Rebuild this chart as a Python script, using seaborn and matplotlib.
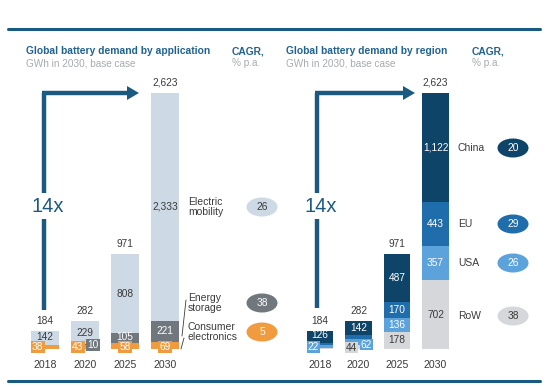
import matplotlib
matplotlib.use("Agg")
import matplotlib.pyplot as plt
import seaborn as sns
import numpy as np
import pandas as pd
from matplotlib.patches import Ellipse
from matplotlib.lines import Line2D

# ---------------- data ----------------
years = ["2018", "2020", "2025", "2030"]
consumer = [38, 43, 58, 69]
storage = [4, 10, 105, 221]
mobility = [142, 229, 808, 2333]
app_totals = [184, 282, 971, 2623]

row = [14, 44, 178, 702]
usa = [22, 62, 136, 357]
eu = [22, 34, 170, 443]
china = [126, 142, 487, 1122]
reg_totals = [184, 282, 971, 2623]

app_names = ["Electric\nmobility", "Energy\nstorage", "Consumer\nelectronics"]
app_cagr = ["26", "38", "5"]
reg_names = ["China", "EU", "USA", "RoW"]
reg_cagr = ["20", "29", "26", "38"]

# ---------------- style ----------------
sns.set_theme(style="white")
plt.rcParams["font.family"] = ["Liberation Sans", "DejaVu Sans"]

C_NAVY = "#1b5a80"
C_TITLE = "#22628f"
C_SUB = "#a6abb0"
C_TXT = "#3a3a3a"
C_EV = "#cdd9e5"
C_ST = "#70777d"
C_CE = "#f09b40"
C_CN = "#0e4467"
C_EU = "#1f6dab"
C_US = "#5ba3da"
C_RW = "#d5d7da"

W, H = 547, 387
fig = plt.figure(figsize=(W / 100, H / 100), dpi=100)
fig.patch.set_facecolor("white")

BASE = 349.0      # baseline pixel (from top)
TOPPX = 30.0
SCALE = 256.0 / 2623.0  # px per GWh
YMAX = (BASE - TOPPX) / SCALE


def px(x, y):
    return x / W, 1 - y / H


def make_ax(x0, x1, pos0, unit):
    ax = fig.add_axes([x0 / W, 1 - BASE / H, (x1 - x0) / W, (BASE - TOPPX) / H])
    ax._lims = ((x0 - pos0) / unit, (x1 - pos0) / unit)
    return ax


def finish(ax):
    ax.set_xlim(*ax._lims)
    ax.set_ylim(0, YMAX)
    ax.axis("off")


def stacked(ax, layers, colors):
    # layers bottom->top; draw cumulative sums from the top down
    cum = np.cumsum(np.array(layers), axis=0)
    for i in range(len(layers) - 1, -1, -1):
        df = pd.DataFrame({"year": years, "v": cum[i]})
        sns.barplot(data=df, x="year", y="v", color=colors[i], saturation=1,
                    width=0.7, errorbar=None, ax=ax, linewidth=0)
    return cum


fs = 7.3
fy = 7.6

# ---------------- left panel ----------------
axL = make_ax(0, 280, 45, 40)
cumL = stacked(axL, [consumer, storage, mobility], [C_CE, C_ST, C_EV])
finish(axL)

for i, y in enumerate(years):
    axL.text(i, app_totals[i] + 55, f"{app_totals[i]:,}", ha="center", va="bottom",
             fontsize=fs, color=C_TXT)
    axL.text(i, -160, y, ha="center", va="center", fontsize=fy, color=C_TXT)
    mid = cumL[1][i] + mobility[i] / 2
    axL.text(i, max(mid, 120), f"{mobility[i]:,}", ha="center", va="center",
             fontsize=fs, color=C_TXT)
    if i >= 1:
        if i == 1:
            axL.text(i + 0.2, 40, f"{storage[i]}", ha="center", va="center", fontsize=fs,
                     color="white", bbox=dict(boxstyle="square,pad=0.12", fc=C_ST, ec="none"))
        else:
            axL.text(i, cumL[0][i] + storage[i] / 2 + 10, f"{storage[i]}", ha="center",
                     va="center", fontsize=fs, color="white")
    xo = -0.18 if i < 2 else 0
    axL.text(i + xo, 20, f"{consumer[i]}", ha="center", va="center", fontsize=fs,
             color="white", bbox=dict(boxstyle="square,pad=0.1", fc=C_CE, ec="none"))

# ---------------- right panel ----------------
axR = make_ax(280, 547, 320, 38.5)
cumR = stacked(axR, [row, usa, eu, china], [C_RW, C_US, C_EU, C_CN])
finish(axR)

for i, y in enumerate(years):
    axR.text(i, reg_totals[i] + 55, f"{reg_totals[i]:,}", ha="center", va="bottom",
             fontsize=fs, color=C_TXT)
    axR.text(i, -160, y, ha="center", va="center", fontsize=fy, color=C_TXT)
    mid = cumR[2][i] + china[i] / 2
    axR.text(i, max(mid, 140), f"{china[i]:,}", ha="center", va="center",
             fontsize=fs, color="white")
    if i >= 2:
        axR.text(i, cumR[1][i] + eu[i] / 2, f"{eu[i]}", ha="center", va="center",
                 fontsize=fs, color="white")
        axR.text(i, cumR[0][i] + usa[i] / 2, f"{usa[i]}", ha="center", va="center",
                 fontsize=fs, color="white")
        axR.text(i, row[i] / 2, f"{row[i]}", ha="center", va="center",
                 fontsize=fs, color=C_TXT)
    elif i == 0:
        axR.text(i - 0.18, 20, f"{usa[i]}", ha="center", va="center", fontsize=fs,
                 color="white", bbox=dict(boxstyle="square,pad=0.08", fc=C_US, ec="none"))
    else:
        axR.text(i - 0.18, 15, f"{row[i]}", ha="center", va="center", fontsize=fs,
                 color=C_TXT, bbox=dict(boxstyle="square,pad=0.08", fc=C_RW, ec="none"))
        axR.text(i + 0.2, 45, f"{usa[i]}", ha="center", va="center", fontsize=fs,
                 color="white", bbox=dict(boxstyle="square,pad=0.08", fc=C_US, ec="none"))

# ---------------- frame lines ----------------
for yy in (29, 381):
    fig.add_artist(Line2D([8 / W, 540 / W], [1 - yy / H, 1 - yy / H], color=C_NAVY, lw=2.2))

# ---------------- titles ----------------
def ftext(x, y, s, **kw):
    fig.text(x / W, 1 - y / H, s, **kw)

ftext(26, 51, "Global battery demand by application", fontsize=7.4, fontweight="bold",
      color=C_TITLE, va="center")
ftext(26, 63, "GWh in 2030, base case", fontsize=7.2, color=C_SUB, va="center")
ftext(232, 51, "CAGR,", fontsize=7.4, fontweight="bold", color=C_TITLE, va="center")
ftext(232, 63, "% p.a.", fontsize=7.2, color=C_SUB, va="center")
ftext(286, 51, "Global battery demand by region", fontsize=7.4, fontweight="bold",
      color=C_TITLE, va="center")
ftext(286, 63, "GWh in 2030, base case", fontsize=7.2, color=C_SUB, va="center")
ftext(472, 51, "CAGR,", fontsize=7.4, fontweight="bold", color=C_TITLE, va="center")
ftext(472, 63, "% p.a.", fontsize=7.2, color=C_SUB, va="center")

# ---------------- arrows ----------------
def arrow(xv, ybot, ytop, xtip, ytxt):
    fig.add_artist(Line2D([xv / W, xv / W], [1 - ybot / H, 1 - ytop / H],
                          color=C_NAVY, lw=3.2, solid_capstyle="butt"))
    fig.add_artist(Line2D([(xv - 1.6) / W, (xtip - 11) / W], [1 - ytop / H, 1 - ytop / H],
                          color=C_NAVY, lw=3.2, solid_capstyle="butt"))
    fig.add_artist(plt.Polygon([px(xtip - 12, ytop - 7), px(xtip, ytop), px(xtip - 12, ytop + 7)],
                               closed=True, fc=C_NAVY, ec="none", transform=fig.transFigure))
    ftext(xv + 4, ytxt, "14x", fontsize=14.5, color=C_NAVY, ha="center", va="center",
          bbox=dict(boxstyle="square,pad=0.15", fc="white", ec="none"))

arrow(44, 310, 93, 139, 206)
arrow(317, 308, 93, 415, 206)

# ---------------- side labels + CAGR ellipses ----------------
def pill(x, y, s, fc, tc):
    fig.add_artist(Ellipse(px(x, y), 31 / W, 19 / H, fc=fc, ec="none", transform=fig.transFigure))
    ftext(x, y, s, fontsize=7.4, color=tc, ha="center", va="center")

app_y = [207, 303, 332]
app_fc = [C_EV, C_ST, C_CE]
app_tc = [C_TXT, "white", "white"]
for n, c, y, f, t in zip(app_names, app_cagr, app_y, app_fc, app_tc):
    ftext(188, y, n, fontsize=7.5, color=C_TXT, va="center", linespacing=1.05)
    pill(262, y, c, f, t)

fig.add_artist(Line2D([182 / W, 186 / W], [1 - 336 / H, 1 - 300 / H], color=C_TXT, lw=0.6))
fig.add_artist(Line2D([181 / W, 184 / W], [1 - 349 / H, 1 - 338 / H], color=C_TXT, lw=0.6))

reg_y = [148, 224, 263, 316]
reg_fc = [C_CN, C_EU, C_US, C_RW]
reg_tc = ["white", "white", "white", C_TXT]
for n, c, y, f, t in zip(reg_names, reg_cagr, reg_y, reg_fc, reg_tc):
    ftext(458, y, n, fontsize=7.5, color=C_TXT, va="center")
    pill(513, y, c, f, t)

fig.savefig("out.png", dpi=100, facecolor="white")
